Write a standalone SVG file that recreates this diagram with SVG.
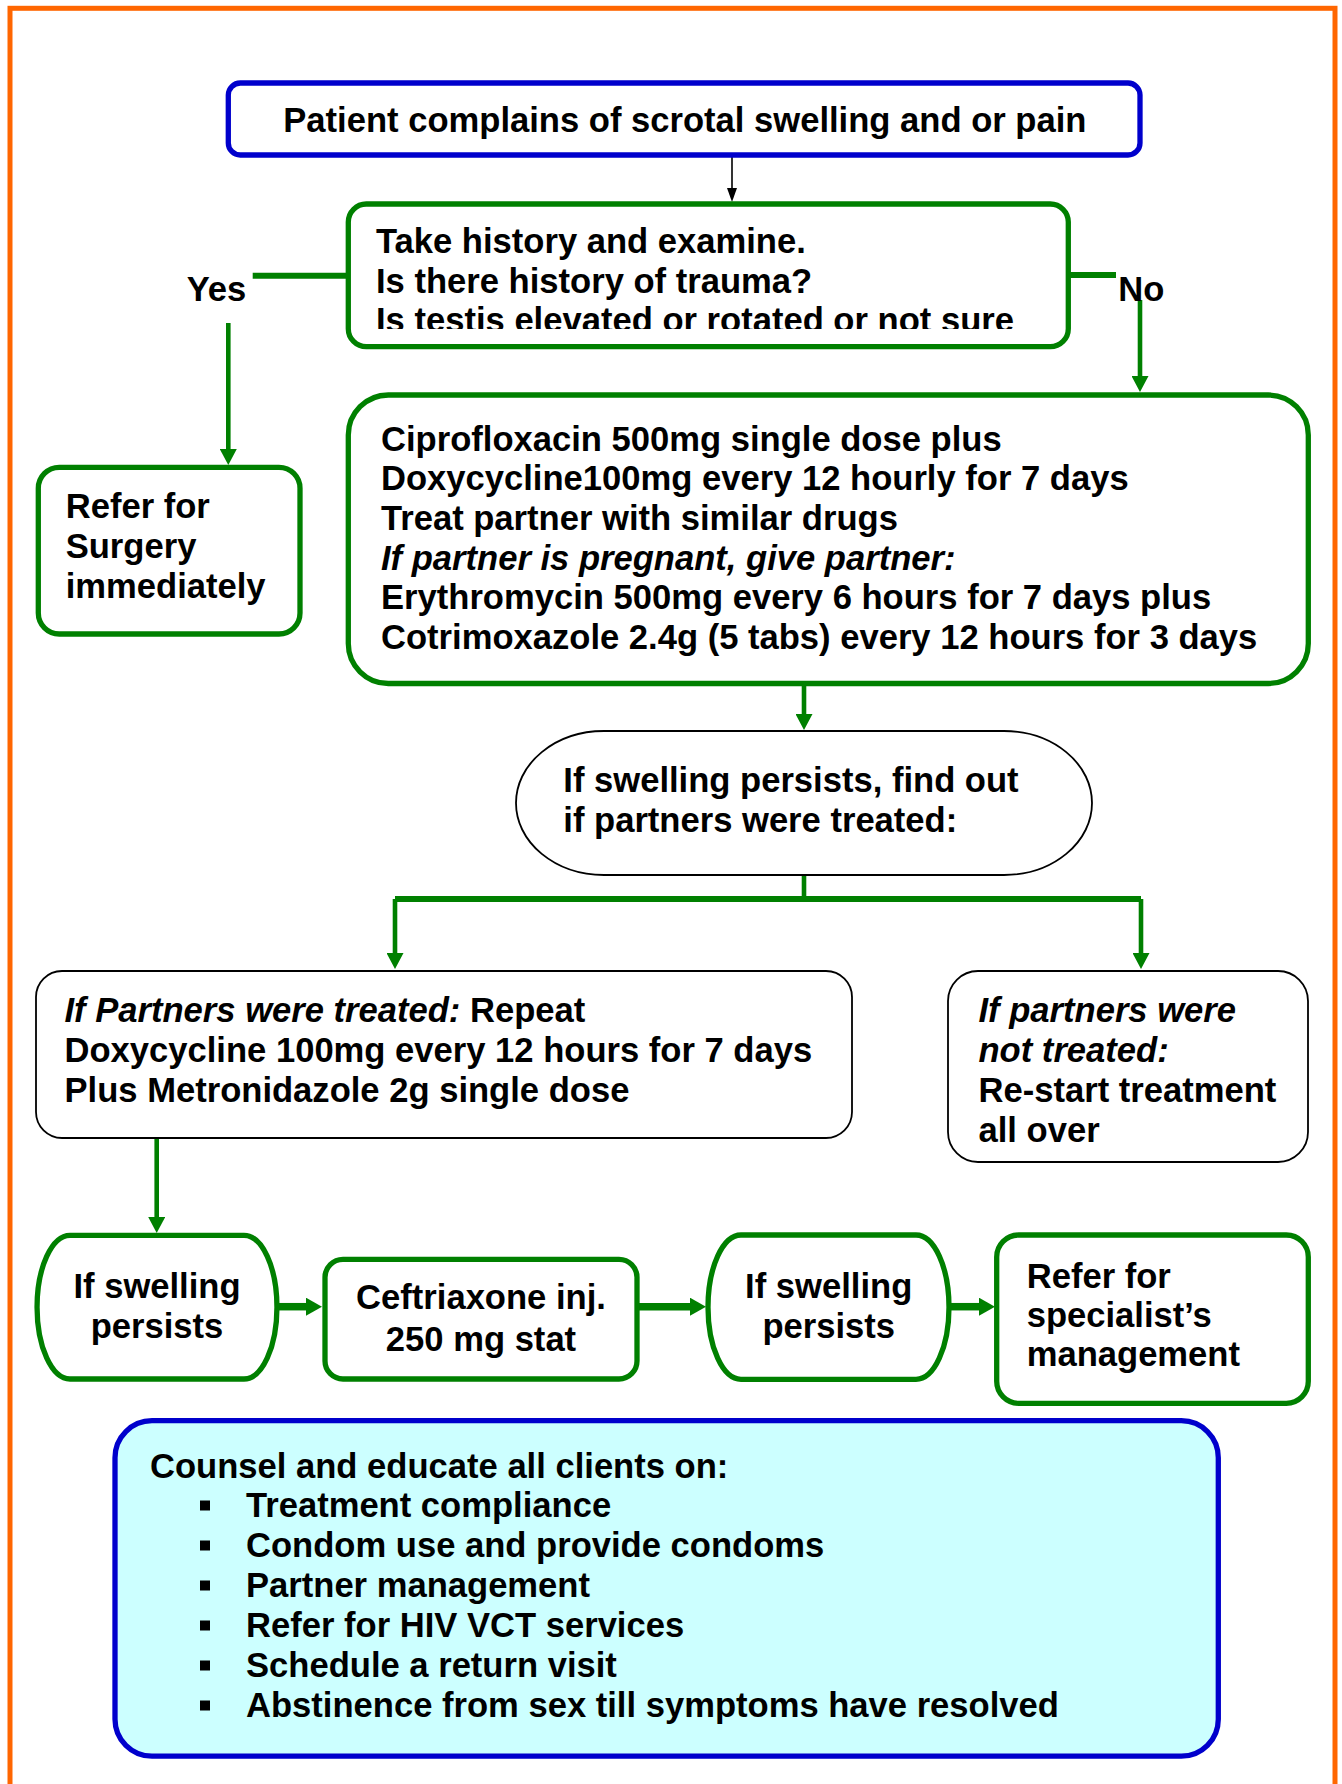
<svg xmlns="http://www.w3.org/2000/svg" width="1342" height="1784" viewBox="0 0 1342 1784">
<style>
text{font-family:"Liberation Sans",Arial,sans-serif;font-weight:bold;font-size:34.6px;fill:#000}
.it{font-style:italic}
.g{fill:#fff;stroke:#008000;stroke-width:5.3}
.k{fill:#fff;stroke:#000;stroke-width:1.8}
.b{stroke:#0000CC;stroke-width:5.3}
.c{fill:none;stroke:#008000}
</style>
<defs>
<marker id="ag" markerUnits="userSpaceOnUse" viewBox="0 0 16 17" refX="0" refY="8.5" markerWidth="16" markerHeight="17" orient="auto"><path d="M0,0L16,8.5L0,17z" fill="#008000"/></marker>
<marker id="ag2" markerUnits="userSpaceOnUse" viewBox="0 0 16 18" refX="0" refY="9" markerWidth="16" markerHeight="18" orient="auto"><path d="M0,0L16,9L0,18z" fill="#008000"/></marker>
<marker id="ak" markerUnits="userSpaceOnUse" viewBox="0 0 14 10" refX="0" refY="5" markerWidth="14" markerHeight="10" orient="auto"><path d="M0,0L14,5L0,10z" fill="#000"/></marker>
<clipPath id="clipq"><rect x="340" y="200" width="730" height="129"/></clipPath>
</defs>
<rect x="10" y="8.3" width="1325" height="1800" fill="#fff" stroke="#FF6600" stroke-width="5"/>

<g id="connectors">
<line x1="732" y1="157" x2="732" y2="188" stroke="#000" stroke-width="1.6" marker-end="url(#ak)"/>
<line class="c" stroke-width="6" x1="348" y1="275.7" x2="252.7" y2="275.7"/>
<line class="c" stroke-width="4.6" x1="228.3" y1="323" x2="228.3" y2="449" marker-end="url(#ag)"/>
<line class="c" stroke-width="6" x1="1068" y1="275" x2="1116" y2="275"/>
<line class="c" stroke-width="4.6" x1="1140" y1="300" x2="1140" y2="376" marker-end="url(#ag)"/>
<line class="c" stroke-width="4.6" x1="804" y1="683" x2="804" y2="714" marker-end="url(#ag)"/>
<line class="c" stroke-width="4.6" x1="804" y1="875" x2="804" y2="899"/>
<path class="c" stroke-width="6" d="M395,899H1141"/>
<line class="c" stroke-width="4.6" x1="395" y1="899" x2="395" y2="953" marker-end="url(#ag)"/>
<line class="c" stroke-width="4.6" x1="1141" y1="899" x2="1141" y2="953" marker-end="url(#ag)"/>
<line class="c" stroke-width="4.6" x1="156.7" y1="1137" x2="156.7" y2="1217" marker-end="url(#ag)"/>
<line class="c" stroke-width="7.5" x1="277" y1="1306.7" x2="306" y2="1306.7" marker-end="url(#ag2)"/>
<line class="c" stroke-width="7.5" x1="637" y1="1306.7" x2="690" y2="1306.7" marker-end="url(#ag2)"/>
<line class="c" stroke-width="7.5" x1="949" y1="1306.7" x2="979" y2="1306.7" marker-end="url(#ag2)"/>
</g>

<g id="n-start">
<rect x="228.3" y="83" width="911.7" height="72" rx="12" fill="#fff" class="b"/>
<text x="283.3" y="131.5">Patient complains of scrotal swelling and or pain</text>
</g>

<g id="n-history">
<rect x="348.3" y="204" width="720" height="142.7" rx="18" class="g"/>
<g clip-path="url(#clipq)">
<text x="376" y="253">Take history and examine.</text>
<text x="376" y="292.6">Is there history of trauma?</text>
<text x="376" y="332.3">Is testis elevated or rotated or not sure</text>
</g>
</g>

<g id="l-yes"><text x="186.7" y="301">Yes</text></g>
<g id="l-no"><text x="1118.3" y="300.5">No</text></g>

<g id="n-surgery">
<rect x="38.3" y="467.3" width="261.7" height="166.7" rx="21" class="g"/>
<text x="65.7" y="518">Refer for</text>
<text x="65.7" y="557.5">Surgery</text>
<text x="65.7" y="597.5">immediately</text>
</g>

<g id="n-treat">
<rect x="348.3" y="395" width="960" height="288.5" rx="40" class="g"/>
<text x="381" y="450.5">Ciprofloxacin 500mg single dose plus</text>
<text x="381" y="490.2">Doxycycline100mg every 12 hourly for 7 days</text>
<text x="381" y="529.9">Treat partner with similar drugs</text>
<text x="381" y="569.6" class="it">If partner is pregnant, give partner:</text>
<text x="381" y="609.3">Erythromycin 500mg every 6 hours for 7 days plus</text>
<text x="381" y="649">Cotrimoxazole 2.4g (5 tabs) every 12 hours for 3 days</text>
</g>

<g id="n-persist-check">
<path class="k" d="M604,731H1004A88,72 0 0 1 1004,875H604A88,72 0 0 1 604,731Z"/>
<text x="563.3" y="792.2">If swelling persists, find out</text>
<text x="563.3" y="831.5">if partners were treated:</text>
</g>

<g id="n-treated">
<rect x="36" y="971" width="816" height="167" rx="26" class="k"/>
<text x="64.5" y="1022"><tspan class="it">If Partners were treated:</tspan> Repeat</text>
<text x="64.5" y="1062">Doxycycline 100mg every 12 hours for 7 days</text>
<text x="64.5" y="1102">Plus Metronidazole 2g single dose</text>
</g>

<g id="n-not-treated">
<rect x="948" y="971" width="360" height="191" rx="30" class="k"/>
<text x="978.5" y="1022" class="it">If partners were</text>
<text x="978.5" y="1061.5" class="it">not treated:</text>
<text x="978.5" y="1102">Re-start treatment</text>
<text x="978.5" y="1142">all over</text>
</g>

<g id="n-persist1">
<path class="g" d="M70,1235.3H244A33,71.85 0 0 1 244,1379H70A33,71.85 0 0 1 70,1235.3Z"/>
<text x="157" y="1297.5" text-anchor="middle">If swelling</text>
<text x="157" y="1338" text-anchor="middle">persists</text>
</g>

<g id="n-ceftriaxone">
<rect x="325" y="1259.3" width="312" height="119.7" rx="18" class="g"/>
<text x="481" y="1308.5" text-anchor="middle">Ceftriaxone inj.</text>
<text x="481" y="1350.5" text-anchor="middle">250 mg stat</text>
</g>

<g id="n-persist2">
<path class="g" d="M741,1235H916A33,72.15 0 0 1 916,1379.3H741A33,72.15 0 0 1 741,1235Z"/>
<text x="828.7" y="1297.5" text-anchor="middle">If swelling</text>
<text x="828.7" y="1338" text-anchor="middle">persists</text>
</g>

<g id="n-specialist">
<rect x="996.7" y="1235" width="311.6" height="168.3" rx="22" class="g"/>
<text x="1026.7" y="1288">Refer for</text>
<text x="1026.7" y="1326.5">specialist’s</text>
<text x="1026.7" y="1365.5">management</text>
</g>

<g id="n-counsel">
<rect x="115" y="1420.7" width="1103.3" height="335.5" rx="37" fill="#CCFFFF" class="b"/>
<text x="150" y="1478">Counsel and educate all clients on:</text>
<rect x="200" y="1500.5" width="10" height="10"/>
<rect x="200" y="1540.5" width="10" height="10"/>
<rect x="200" y="1580.5" width="10" height="10"/>
<rect x="200" y="1620.5" width="10" height="10"/>
<rect x="200" y="1660.5" width="10" height="10"/>
<rect x="200" y="1700.5" width="10" height="10"/>
<text x="246" y="1517.2">Treatment compliance</text>
<text x="246" y="1557.2">Condom use and provide condoms</text>
<text x="246" y="1597.2">Partner management</text>
<text x="246" y="1637.2">Refer for HIV VCT services</text>
<text x="246" y="1677.2">Schedule a return visit</text>
<text x="246" y="1717.2">Abstinence from sex till symptoms have resolved</text>
</g>
</svg>
